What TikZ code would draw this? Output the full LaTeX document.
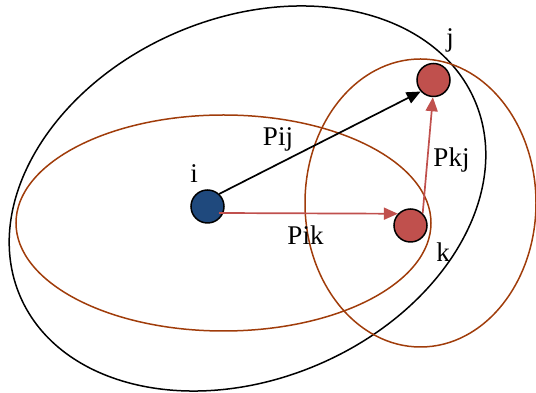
\documentclass[tikz,border=0pt]{standalone}
\usepackage{fontspec}
\setmainfont{Liberation Serif}
\usetikzlibrary{arrows.meta,calc}
\definecolor{nblue}{HTML}{1F497D}
\definecolor{nred}{HTML}{C0504D}
\definecolor{brn}{HTML}{A03C0A}
\tikzset{
  vert/.style={circle,draw=black,line width=1.5pt,minimum size=33pt,inner sep=0pt},
  lbl/.style={anchor=base,inner sep=0pt,font=\fontsize{27}{32}\selectfont},
  blackarr/.style={line width=1.7pt,-{Triangle[length=14pt,width=12pt]}},
  redarr/.style={draw=nred,line width=1.7pt,-{Triangle[length=14pt,width=12pt]},nred},
  oval/.style={line width=1.5pt}
}
\begin{document}
\begin{tikzpicture}[x=1pt,y=1pt]
\useasboundingbox (0,0) rectangle (536,393);
% ellipses
\draw[oval,black,rotate around={23.3:(247.5,194.5)}] (247.5,194.5) ellipse [x radius=247.5,y radius=180.5];
\draw[oval,brn] (223.5,170) ellipse [x radius=207.5,y radius=108];
\draw[oval,brn] (420.5,190) ellipse [x radius=115.5,y radius=144];
% nodes
\node[vert,fill=nblue] (i) at (207.5,186.5) {};
\node[vert,fill=nred] (k) at (410.5,167.5) {};
\node[vert,fill=nred] (j) at (433.5,313) {};
% arrows
\draw[blackarr] (i.47) -- (j.222);
\draw[redarr] ($(i.center)+(11.5,-6.5)$) -- (k.137);
\draw[redarr] (k.45) -- (j.268);
% labels
\node[lbl] (li) at (194,210) {i};
\node[lbl] (lj) at (450,346) {j};
\node[lbl] (lk) at (443,131) {k};
\node[lbl] (lpij) at (278,247) {Pij};
\node[lbl] (lpik) at (305.5,148) {Pik};
\node[lbl] (lpkj) at (451.5,226) {Pkj};
\end{tikzpicture}
\end{document}
